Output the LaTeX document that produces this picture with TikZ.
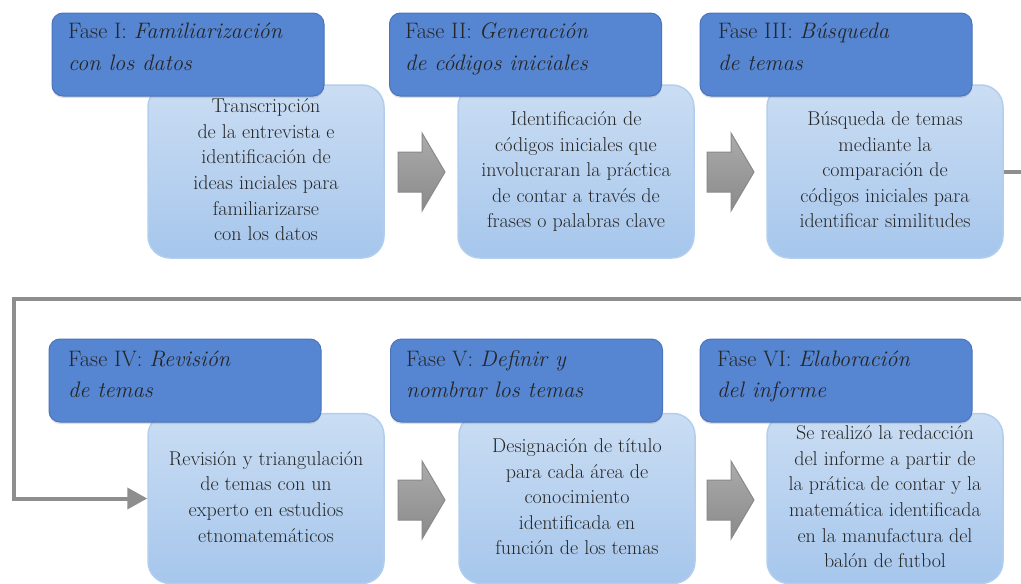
\documentclass[tikz,border=0pt]{standalone}
\usepackage{fontspec}
\usetikzlibrary{arrows.meta,shadows,calc}
\definecolor{hdrfill}{HTML}{5686D2}
\definecolor{hdrdraw}{HTML}{4A74BC}
\definecolor{bodytop}{HTML}{CADDF3}
\definecolor{bodybot}{HTML}{A6C6EC}
\definecolor{bodydraw}{HTML}{B2CEEE}
\definecolor{txt}{HTML}{262626}
\definecolor{arrtop}{HTML}{ABABAB}
\definecolor{arrbot}{HTML}{8A8A8A}
\definecolor{arrdraw}{HTML}{8A8A8A}
\definecolor{connc}{HTML}{8E8E8E}
\tikzset{
  hdrbox/.style={draw=hdrdraw, line width=1pt, fill=hdrfill, rounded corners=11pt,
    minimum width=272pt, minimum height=83pt, inner sep=0pt,
    drop shadow={opacity=0.25, shadow xshift=0pt, shadow yshift=-2pt}},
  hdrtext/.style={anchor=north west, inner sep=0pt, align=left, text=txt,
    font=\fontsize{22.4}{31.5}\selectfont},
  bodybox/.style={draw=bodydraw, line width=1.5pt, top color=bodytop, bottom color=bodybot,
    rounded corners=22pt, minimum width=236pt, inner sep=0pt, align=center, text=txt,
    font=\fontsize{20}{25.6}\selectfont},
  rowone/.style={minimum height=173pt},
  rowtwo/.style={minimum height=170pt},
  connline/.style={draw=connc, line width=4pt, -{Triangle[length=20pt,width=21pt]}},
  pics/blockarrow/.style={code={
    \draw[arrdraw, line width=1pt, top color=arrtop, bottom color=arrbot]
      (-23.5,-20) -- (0.5,-20) -- (0.5,-39) -- (23.5,0) -- (0.5,39) -- (0.5,20) -- (-23.5,20) -- cycle;}}
}
\begin{document}
\begin{tikzpicture}[x=1pt,y=-1pt]
\useasboundingbox[fill=white] (0,0) rectangle (1021,584);

% body boxes
\node[bodybox,rowone] (b1) at (266,171.5) {\strut Transcripción\\ de la entrevista e\\ identificación de\\ ideas inciales para\\ familiarizarse\\ con los datos\strut};
\node[bodybox,rowone] (b2) at (576,171.5) {\strut Identificación de\\ códigos iniciales que\\ involucraran la práctica\\ de contar a través de\\ frases o palabras clave\strut};
\node[bodybox,rowone] (b3) at (885,171.5) {\strut Búsqueda de temas\\ mediante la\\ comparación de\\ códigos iniciales para\\ identificar similitudes\strut};
\node[bodybox,rowtwo] (b4) at (266,498.5) {\strut Revisión y triangulación\\ de temas con un\\ experto en estudios\\ etnomatemáticos\strut};
\node[bodybox,rowtwo] (b5) at (577,498.5) {\strut Designación de título\\ para cada área de\\ conocimiento\\ identificada en\\ función de los temas\strut};
\node[bodybox,rowtwo] (b6) at (885,498.5) {\strut Se realizó la redacción\\ del informe a partir de\\ la prática de contar y la\\ matemática identificada\\ en la manufactura del\\ balón de futbol\strut};

% header boxes
\node[hdrbox] (h1) at (188,54.5) {};
\node[hdrbox] (h2) at (525.5,54.5) {};
\node[hdrbox] (h3) at (836,54.5) {};
\node[hdrbox] (h4) at (185,380.5) {};
\node[hdrbox] (h5) at (526.5,380.5) {};
\node[hdrbox] (h6) at (836,380.5) {};

% header texts
\node[hdrtext] (t1) at (68,16.5) {\strut Fase I: \textit{Familiarización}\\ \textit{con los datos}\strut};
\node[hdrtext] (t2) at (405,16.5) {\strut Fase II: \textit{Generación}\\ \textit{de códigos iniciales}\strut};
\node[hdrtext] (t3) at (718,16.5) {\strut Fase III: \textit{Búsqueda}\\ \textit{de temas}\strut};
\node[hdrtext] (t4) at (68,344) {\strut Fase IV: \textit{Revisión}\\ \textit{de temas}\strut};
\node[hdrtext] (t5) at (406,344) {\strut Fase V: \textit{Definir y}\\ \textit{nombrar los temas}\strut};
\node[hdrtext] (t6) at (717,344) {\strut Fase VI: \textit{Elaboración}\\ \textit{del informe}\strut};

% block arrows
\pic at (421.5,172) {blockarrow};
\pic at (730.5,172) {blockarrow};
\pic at (421.5,500) {blockarrow};
\pic at (730.5,500) {blockarrow};

% connector
\coordinate (rc) at (1026,299);
\coordinate (lc) at (14,299);
\draw[connline] (b3.east) -| (rc) -- (lc) |- (b4.west);
\end{tikzpicture}
\end{document}
